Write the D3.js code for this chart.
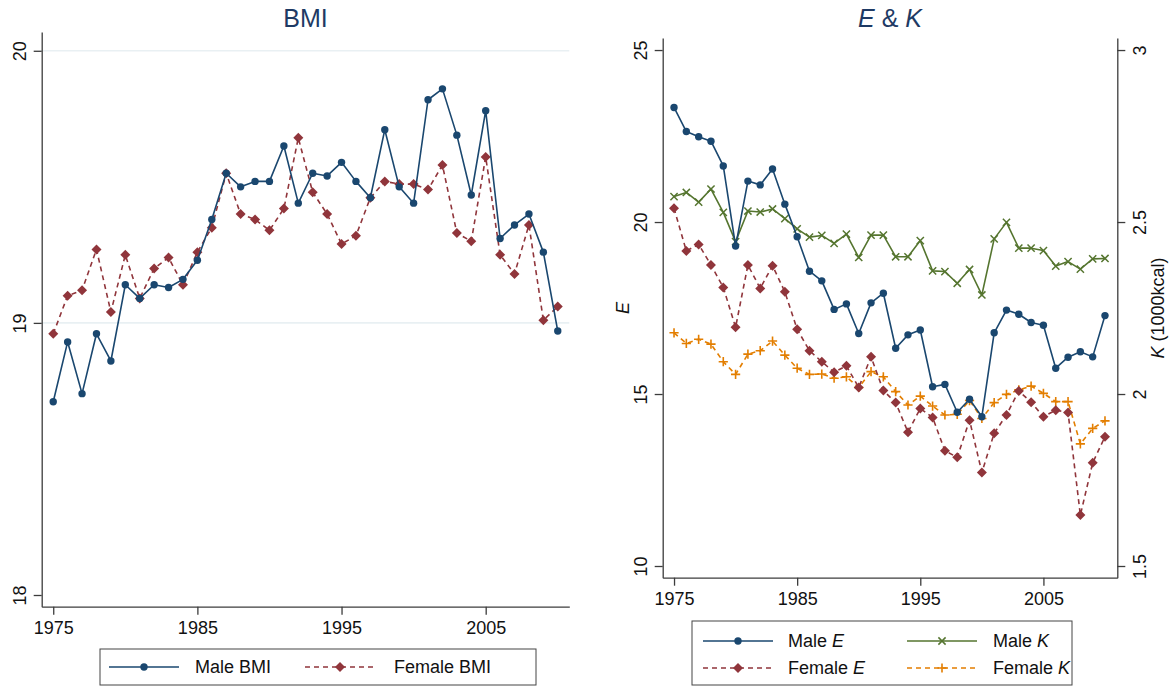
<!DOCTYPE html>
<html>
<head>
<meta charset="utf-8">
<script src="https://cdn.jsdelivr.net/npm/d3@7"></script>
<style>
  body { margin: 0; background: #fff; }
  svg { display: block; font-family: "Liberation Sans", Arial, sans-serif; }
</style>
</head>
<body>
<svg id="chart" width="1172" height="687"></svg>
<script>
// ---- data -------------------------------------------------------------
const years = [1975,1976,1977,1978,1979,1980,1981,1982,1983,1984,
               1985,1986,1987,1988,1989,1990,1991,1992,1993,1994,
               1995,1996,1997,1998,1999,2000,2001,2002,2003,2004,
               2005,2006,2007,2008,2009,2010];

const maleBMI = [18.71,18.93,18.74,18.96,18.86,19.14,19.09,19.14,19.13,19.16,
                 19.23,19.38,19.55,19.50,19.52,19.52,19.65,19.44,19.55,19.54,
                 19.59,19.52,19.46,19.71,19.50,19.44,19.82,19.86,19.69,19.47,
                 19.78,19.31,19.36,19.40,19.26,18.97];
const femaleBMI = [18.96,19.10,19.12,19.27,19.04,19.25,19.09,19.20,19.24,19.14,
                   19.26,19.35,19.55,19.40,19.38,19.34,19.42,19.68,19.48,19.40,
                   19.29,19.32,19.46,19.52,19.51,19.51,19.49,19.58,19.33,19.30,
                   19.61,19.25,19.18,19.36,19.01,19.06];

const maleE = [23.33,22.63,22.48,22.35,21.63,19.30,21.19,21.08,21.54,20.52,
               19.57,18.57,18.29,17.46,17.62,16.76,17.65,17.93,16.33,16.72,
               16.86,15.21,15.28,14.47,14.85,14.34,16.78,17.44,17.32,17.08,
               17.00,15.75,16.07,16.23,16.08,17.28];
const femaleE = [20.40,19.16,19.35,18.75,18.10,16.94,18.75,18.07,18.73,17.97,
                 16.88,16.26,15.94,15.63,15.82,15.19,16.08,15.10,14.75,13.89,
                 14.58,14.32,13.35,13.16,14.24,12.72,13.86,14.39,15.09,14.76,
                 14.34,14.53,14.46,11.48,13.00,13.76];
const maleK = [2.574,2.586,2.558,2.596,2.528,2.443,2.532,2.529,2.538,2.510,
               2.480,2.456,2.461,2.438,2.465,2.397,2.462,2.462,2.399,2.399,
               2.446,2.358,2.356,2.322,2.362,2.288,2.451,2.499,2.424,2.424,
               2.417,2.372,2.385,2.363,2.393,2.394];
const femaleK = [2.178,2.147,2.159,2.145,2.094,2.057,2.116,2.126,2.154,2.113,
                 2.075,2.057,2.058,2.046,2.050,2.019,2.065,2.050,2.007,1.968,
                 1.994,1.965,1.939,1.941,1.981,1.929,1.975,1.999,2.012,2.023,
                 2.002,1.978,1.978,1.855,1.900,1.922];

const yearTicks = [1975, 1985, 1995, 2005];
const bmiTicks = [18, 19, 20];
const eTicks = [10, 15, 20, 25];
const kTicks = [1.5, 2, 2.5, 3];

// ---- styling ----------------------------------------------------------
const C = { navy: "#1a476f", maroon: "#90353b", green: "#55752f", orange: "#e37e00",
            title: "#1e3a64", axis: "#3c3c3c", grid: "#e9f0f3", text: "#111" };
const FS = 18;          // tick / legend font size
const DASH = "5,4";

const svg = d3.select("#chart");

// marker path generators (centred on 0,0)
const diamondPath = d3.symbol(d3.symbolSquare, 50)();
const crossPath = "M-3.6,-3.6L3.6,3.6M-3.6,3.6L3.6,-3.6";
const plusPath = "M-4.6,0H4.6M0,-4.6V4.6";

function series(g, x, y, vals, opt) {
  const pts = years.map((yr, i) => ({ yr, v: vals[i] }));
  const line = d3.line().x(d => x(d.yr)).y(d => y(d.v));
  g.append("path").datum(pts)
    .attr("d", line).attr("fill", "none")
    .attr("stroke", opt.color).attr("stroke-width", 1.6)
    .attr("stroke-dasharray", opt.dashed ? DASH : null)
    .attr("stroke-linejoin", "round");
  const m = g.append("g");
  pts.forEach(d => drawMarker(m, opt.marker, x(d.yr), y(d.v), opt.color));
}

function drawMarker(g, type, cx, cy, color) {
  if (type === "circle") {
    g.append("circle").attr("cx", cx).attr("cy", cy).attr("r", 3.7).attr("fill", color);
  } else if (type === "diamond") {
    g.append("path").attr("d", diamondPath)
      .attr("transform", `translate(${cx},${cy}) rotate(45)`).attr("fill", color);
  } else if (type === "x") {
    g.append("path").attr("d", crossPath).attr("transform", `translate(${cx},${cy})`)
      .attr("stroke", color).attr("stroke-width", 1.5).attr("fill", "none");
  } else if (type === "plus") {
    g.append("path").attr("d", plusPath).attr("transform", `translate(${cx},${cy})`)
      .attr("stroke", color).attr("stroke-width", 1.6).attr("fill", "none");
  }
}

function styleAxis(g) {
  g.select(".domain").attr("stroke", C.axis).attr("stroke-width", 1.3);
  g.selectAll(".tick line").attr("stroke", C.axis).attr("stroke-width", 1.3);
  g.selectAll(".tick text").attr("fill", C.text).attr("font-size", FS)
    .attr("font-family", '"Liberation Sans", Arial, sans-serif');
}

// vertical tick labels, reading bottom to top
function rotateLabels(g, offset) {
  g.selectAll(".tick text")
    .attr("transform", "rotate(-90)")
    .attr("x", 0).attr("y", offset).attr("dy", 0)
    .attr("text-anchor", "middle");
}

// ---- left panel: BMI --------------------------------------------------
const xL = d3.scaleLinear([1974.2, 2010.8], [41.7, 569.3]);
const yL = d3.scaleLinear([17.957, 20.069], [606.7, 32]);
const left = svg.append("g");

left.append("g").selectAll("line").data([19, 20]).join("line")
  .attr("x1", 41.7).attr("x2", 569.3)
  .attr("y1", d => yL(d)).attr("y2", d => yL(d))
  .attr("stroke", C.grid).attr("stroke-width", 1.6);

const lxAxis = left.append("g").attr("transform", `translate(0,${yL.range()[0]})`)
  .call(d3.axisBottom(xL).tickValues(yearTicks).tickFormat(d3.format("d"))
        .tickSize(8).tickSizeOuter(0).tickPadding(7));
styleAxis(lxAxis);

const lyAxis = left.append("g").attr("transform", `translate(${xL.range()[0]},0)`)
  .call(d3.axisLeft(yL).tickValues(bmiTicks).tickFormat(d3.format("d"))
        .tickSize(8).tickSizeOuter(0));
styleAxis(lyAxis);
rotateLabels(lyAxis, -15.5);

const lData = left.append("g");
series(lData, xL, yL, femaleBMI, { color: C.maroon, dashed: true, marker: "diamond" });
series(lData, xL, yL, maleBMI, { color: C.navy, dashed: false, marker: "circle" });

left.append("text").attr("x", (41.7 + 569.3) / 2).attr("y", 27)
  .attr("text-anchor", "middle").attr("font-size", 25).attr("fill", C.title).text("BMI");

// ---- right panel: E & K -----------------------------------------------
const xR = d3.scaleLinear([1974.08, 2011.0], [662.7, 1117.3]);
const yE = d3.scaleLinear([9.66, 25.35], [577.7, 38]);
const yK = d3.scaleLinear([1.466, 3.035], [577.7, 38]);
const right = svg.append("g");

const rxAxis = right.append("g").attr("transform", `translate(0,${yE.range()[0]})`)
  .call(d3.axisBottom(xR).tickValues(yearTicks).tickFormat(d3.format("d"))
        .tickSize(8).tickSizeOuter(0).tickPadding(7));
styleAxis(rxAxis);

const ryAxis = right.append("g").attr("transform", `translate(${xR.range()[0]},0)`)
  .call(d3.axisLeft(yE).tickValues(eTicks).tickFormat(d3.format("d"))
        .tickSize(8).tickSizeOuter(0));
styleAxis(ryAxis);
rotateLabels(ryAxis, -15.5);

const rkAxis = right.append("g").attr("transform", `translate(${xR.range()[1]},0)`)
  .call(d3.axisRight(yK).tickValues(kTicks).tickFormat(d => String(d))
        .tickSize(8).tickSizeOuter(0));
styleAxis(rkAxis);
rotateLabels(rkAxis, 29.2);

const rData = right.append("g");
series(rData, xR, yK, maleK, { color: C.green, dashed: false, marker: "x" });
series(rData, xR, yK, femaleK, { color: C.orange, dashed: true, marker: "plus" });
series(rData, xR, yE, femaleE, { color: C.maroon, dashed: true, marker: "diamond" });
series(rData, xR, yE, maleE, { color: C.navy, dashed: false, marker: "circle" });

const rTitle = right.append("text").attr("x", (662.7 + 1117.3) / 2).attr("y", 27)
  .attr("text-anchor", "middle").attr("font-size", 25).attr("fill", C.title);
rTitle.append("tspan").attr("font-style", "italic").text("E");
rTitle.append("tspan").text(" & ");
rTitle.append("tspan").attr("font-style", "italic").text("K");

right.append("text").attr("transform", "translate(628.5,308) rotate(-90)")
  .attr("text-anchor", "middle").attr("font-size", FS).attr("fill", C.text)
  .attr("font-style", "italic").text("E");

const kTitle = right.append("text").attr("transform", "translate(1164,308) rotate(-90)")
  .attr("text-anchor", "middle").attr("font-size", FS).attr("fill", C.text);
kTitle.append("tspan").attr("font-style", "italic").text("K");
kTitle.append("tspan").text(" (1000kcal)");

// ---- legends ------------------------------------------------------------
function legendKey(g, x0, y0, color, dashed, marker) {
  g.append("line").attr("x1", x0).attr("x2", x0 + 70).attr("y1", y0).attr("y2", y0)
    .attr("stroke", color).attr("stroke-width", 1.6)
    .attr("stroke-dasharray", dashed ? DASH : null);
  drawMarker(g, marker, x0 + 35, y0, color);
}
function legendText(g, x0, y0, parts) {
  const t = g.append("text").attr("x", x0).attr("y", y0).attr("dy", "0.35em")
    .attr("font-size", FS).attr("fill", C.text);
  parts.forEach(p => t.append("tspan").attr("font-style", p.it ? "italic" : null).text(p.s));
}

const legL = svg.append("g");
legL.append("rect").attr("x", 100).attr("y", 649).attr("width", 436).attr("height", 36)
  .attr("fill", "#fff").attr("stroke", "#444").attr("stroke-width", 1);
legendKey(legL, 109, 667, C.navy, false, "circle");
legendText(legL, 195, 667, [{ s: "Male BMI" }]);
legendKey(legL, 305, 667, C.maroon, true, "diamond");
legendText(legL, 394, 667, [{ s: "Female BMI" }]);

const legR = svg.append("g");
legR.append("rect").attr("x", 692).attr("y", 621).attr("width", 380).attr("height", 64)
  .attr("fill", "#fff").attr("stroke", "#444").attr("stroke-width", 1);
legendKey(legR, 703, 641, C.navy, false, "circle");
legendText(legR, 788, 641, [{ s: "Male " }, { s: "E", it: true }]);
legendKey(legR, 907, 641, C.green, false, "x");
legendText(legR, 993, 641, [{ s: "Male " }, { s: "K", it: true }]);
legendKey(legR, 703, 668, C.maroon, true, "diamond");
legendText(legR, 788, 668, [{ s: "Female " }, { s: "E", it: true }]);
legendKey(legR, 907, 668, C.orange, true, "plus");
legendText(legR, 993, 668, [{ s: "Female " }, { s: "K", it: true }]);
</script>
</body>
</html>
